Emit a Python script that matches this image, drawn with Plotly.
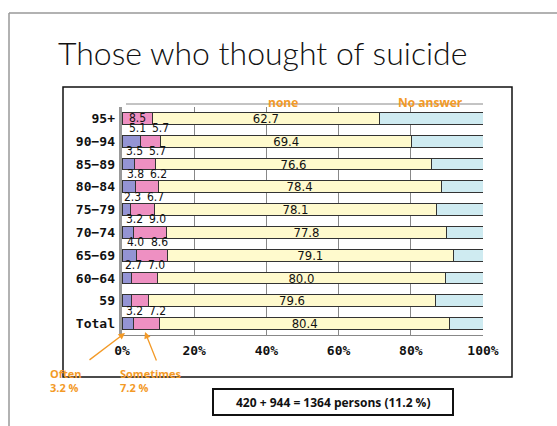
import plotly.graph_objects as go

categories = ["95+", "90−94", "85−89", "80−84", "75−79", "70−74", "65−69", "60−64", "59", "Total"]
often = [0.0, 5.1, 3.5, 3.8, 2.3, 3.2, 4.0, 2.7, 2.6, 3.2]
sometimes = [8.5, 5.7, 5.7, 6.2, 6.7, 9.0, 8.6, 7.0, 4.7, 7.2]
none = [62.7, 69.4, 76.6, 78.4, 78.1, 77.8, 79.1, 80.0, 79.6, 80.4]
no_answer = [round(100 - o - s - n, 1) for o, s, n in zip(often, sometimes, none)]
x_ticks = [0, 20, 40, 60, 80, 100]
x_tick_labels = ["0%", "20%", "40%", "60%", "80%", "100%"]

W, H = 557, 426
ML, MR, MT, MB = 122, 74, 107, 91
PW, PH = W - ML - MR, H - MT - MB


def px(x):
    return (x - ML) / PW


def py(y):
    return (H - MB - y) / PH


ORANGE = "#F39A27"
NUM_FAMILY = "Liberation Sans Narrow, DejaVu Sans Condensed, Liberation Sans"
num_font = dict(family=NUM_FAMILY, size=13, color="#111")
small_font = dict(family=NUM_FAMILY, size=12, color="#111")

fig = go.Figure()
fig.add_trace(go.Bar(y=categories, x=often, orientation="h", name="Often",
                     marker=dict(color="#9494D4", line=dict(color="#333", width=1))))
fig.add_trace(go.Bar(y=categories, x=sometimes, orientation="h", name="Sometimes",
                     marker=dict(color="#EE90C2", line=dict(color="#333", width=1))))
fig.add_trace(go.Bar(y=categories, x=none, orientation="h", name="none",
                     marker=dict(color="#FFFACD", line=dict(color="#333", width=1)),
                     text=[f"{v:.1f}" for v in none], textposition="inside",
                     insidetextanchor="middle", constraintext="none", textfont=num_font))
fig.add_trace(go.Bar(y=categories, x=no_answer, orientation="h", name="No answer",
                     marker=dict(color="#CFEBF1", line=dict(color="#333", width=1))))

annotations = []
for c, o, s in zip(categories, often, sometimes):
    if o == 0:
        annotations.append(dict(x=o + s / 2, y=c, xref="x", yref="y", text=f"{s:.1f}",
                                showarrow=False, font=small_font))
        continue
    xo = max(o / 2 + 1.8, 3.0)
    xs = max(o + s / 2 + 2.0, xo + 6.3)
    annotations.append(dict(x=xo, y=c, xref="x", yref="y", text=f"{o:.1f}",
                            showarrow=False, yshift=13, font=small_font))
    annotations.append(dict(x=xs, y=c, xref="x", yref="y", text=f"{s:.1f}",
                            showarrow=False, yshift=13, font=small_font))


def pa(x, y, text, font, xanchor="center", **kw):
    return dict(x=px(x), y=py(y), xref="paper", yref="paper", text=text, showarrow=False,
                xanchor=xanchor, yanchor="middle", font=font, **kw)


# segment labels at top
annotations.append(pa(283, 103, "<b>none</b>", dict(family="Open Sans", size=12, color=ORANGE)))
annotations.append(pa(430, 103, "<b>No answer</b>", dict(family="Open Sans", size=12, color=ORANGE)))
# title
annotations.append(pa(56, 53, "Those who thought of suicide",
                      dict(family="Lato", size=32, color="#111", weight=300), xanchor="left"))
# often / sometimes callouts
annotations.append(pa(48, 380, "<b>Often</b><br><b>3.2 %</b>",
                      dict(family="Open Sans", size=11, color=ORANGE), xanchor="left", align="left"))
annotations.append(pa(118, 380, "<b>Sometimes</b><br><b>7.2 %</b>",
                      dict(family="Open Sans", size=11, color=ORANGE), xanchor="left", align="left"))
annotations.append(dict(x=px(125), y=py(333), ax=-37, ay=28, xref="paper", yref="paper",
                        axref="pixel", ayref="pixel", text="", showarrow=True, arrowhead=2,
                        arrowsize=1, arrowwidth=1.3, arrowcolor=ORANGE))
annotations.append(dict(x=px(145), y=py(332), ax=12, ay=30, xref="paper", yref="paper",
                        axref="pixel", ayref="pixel", text="", showarrow=True, arrowhead=2,
                        arrowsize=1, arrowwidth=1.3, arrowcolor=ORANGE))
# summary box
annotations.append(pa(333, 402, "<b>420 + 944 = 1364 persons (11.2 %)</b>",
                      dict(family="Open Sans", size=12, color="#111")))

shapes = [
    # slide frame (top and left)
    dict(type="line", xref="paper", yref="paper", x0=px(9), x1=px(557), y0=py(13), y1=py(13),
         line=dict(color="#999", width=1.5)),
    dict(type="line", xref="paper", yref="paper", x0=px(9), x1=px(9), y0=py(13), y1=py(426),
         line=dict(color="#999", width=1.5)),
    # chart box
    dict(type="rect", xref="paper", yref="paper", x0=px(63), x1=px(512), y0=py(377), y1=py(87),
         line=dict(color="#111", width=1.5)),
    # summary box
    dict(type="rect", xref="paper", yref="paper", x0=px(213), x1=px(453), y0=py(415), y1=py(389),
         line=dict(color="#111", width=2)),
    # back wall top edge and left wall
    dict(type="line", xref="paper", yref="paper", x0=px(126), x1=1, y0=py(104), y1=py(104),
         line=dict(color="#888", width=1)),
    dict(type="rect", xref="paper", yref="paper", x0=px(119), x1=px(122), y0=py(335), y1=py(107),
         fillcolor="#999", line=dict(width=0), layer="below"),
]

fig.update_layout(
    barmode="stack",
    bargap=0.48,
    width=W, height=H,
    margin=dict(l=ML, r=MR, t=MT, b=MB),
    paper_bgcolor="white", plot_bgcolor="white",
    showlegend=False,
    annotations=annotations,
    shapes=shapes,
    xaxis=dict(range=[0, 100], tickvals=x_ticks, ticktext=x_tick_labels,
               showgrid=True, gridcolor="#888", gridwidth=1, zeroline=False,
               showline=True, linecolor="#888", ticks="", ticklabelstandoff=3,
               tickfont=dict(family="DejaVu Sans Mono", size=13, color="#111", weight="bold")),
    yaxis=dict(categoryorder="array", categoryarray=categories[::-1], autorange=False,
               range=[-0.5, len(categories) - 0.5], showgrid=False, ticks="",
               ticklabelstandoff=6,
               tickfont=dict(family="DejaVu Sans Mono", size=13, color="#111", weight="bold")),
)

fig.write_html("out.html", config={"displayModeBar": False},
               post_script="document.body.style.margin='0';document.body.style.padding='0';")
